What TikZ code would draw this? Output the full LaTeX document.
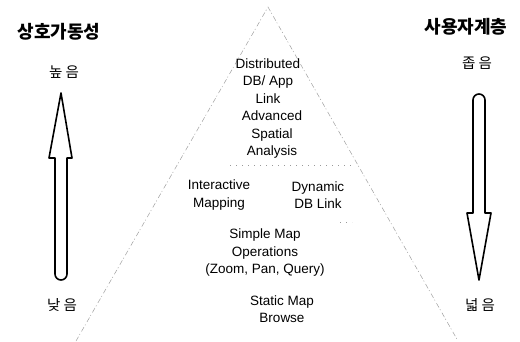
\documentclass[tikz,border=0pt]{standalone}
\usepackage{fontspec}
\setmainfont{Liberation Sans}
\newfontfamily\kr{Noto Sans CJK KR}
\begin{document}
\begin{tikzpicture}[x=1pt,y=-1pt,
  lbl/.style={align=center,inner sep=0pt,font=\fontsize{13.5}{17.5}\selectfont},
  krtitle/.style={inner sep=0pt,font=\kr\fontsize{18}{20}\selectfont\bfseries},
  krsmall/.style={inner sep=0pt,font=\kr\fontsize{14.5}{16}\selectfont},
  edge/.style={gray!75,line width=0.5pt,dash pattern=on 5pt off 2pt on 1pt off 3pt},
  dots/.style={gray!80,line width=0.5pt,dash pattern=on 1pt off 5pt},
  bigarrow/.style={black,line width=1.6pt,line join=round}]
\useasboundingbox (0,0) rectangle (520,341);
% pyramid
\coordinate (apex) at (268,7);
\coordinate (bl) at (76,341);
\coordinate (br) at (458,341);
\draw[edge] (bl) -- (apex) -- (br);
\coordinate (d1) at (230,165);
\coordinate (d2) at (354,165);
\draw[dots] (d1) -- (d2);
\coordinate (d3) at (340,222);
\coordinate (d4) at (352,222);
\draw[dots] (d3) -- (d4);
% labels
\node[lbl] (dist) at (268,81) {Distributed\\DB/ App\\Link};
\node[lbl] (adv) at (272,135) {Advanced\\Spatial\\Analysis};
\node[lbl] (inter) at (219,195) {Interactive\\Mapping};
\node[lbl] (dyn) at (318,195) {Dynamic\\DB Link};
\node[lbl] (simple) at (265,253) {Simple Map\\Operations\\(Zoom, Pan, Query)};
\node[lbl] (static) at (282,309) {Static Map\\Browse};
% titles
\node[krtitle] (lt) at (59,32) {상호가동성};
\node[krtitle] (rt) at (466,27) {사용자계층};
\node[krsmall] (high) at (64,72) {높 음};
\node[krsmall] (low) at (62,305) {낮 음};
\node[krsmall] (narrow) at (477,63) {좁 음};
\node[krsmall] (wide) at (480,305) {넓 음};
% up arrow
\draw[bigarrow] (55,274) -- (55,158) -- (49,158) -- (61,93) -- (72,158) -- (67,158) -- (67,274)
  arc[start angle=0,end angle=180,radius=6];
% down arrow
\draw[bigarrow] (473,100) -- (473,213) -- (467,213) -- (479,280) -- (491,213) -- (485,213) -- (485,100)
  arc[start angle=0,end angle=-180,radius=6];
\end{tikzpicture}
\end{document}
